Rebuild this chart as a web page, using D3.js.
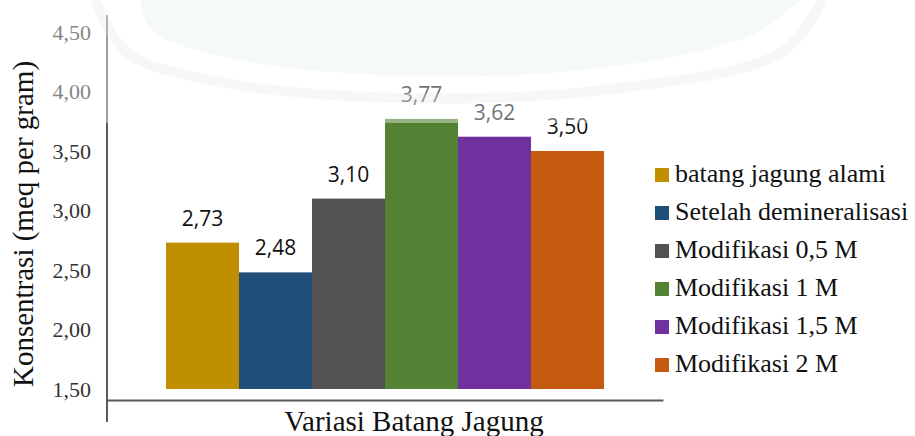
<!DOCTYPE html>
<html>
<head>
<meta charset="utf-8">
<script src="https://cdn.jsdelivr.net/npm/d3@7"></script>
<style>
body { margin: 0; background: #fff; }
.serif { font-family: "Liberation Serif", "Times New Roman", Tinos, "DejaVu Serif", "Noto Serif", serif; }
</style>
</head>
<body>
<div id="chart"></div>
<script>
var categories = ["Variasi Batang Jagung"];
var seriesNames = ["batang jagung alami", "Setelah demineralisasi", "Modifikasi 0,5 M", "Modifikasi 1 M", "Modifikasi 1,5 M", "Modifikasi 2 M"];
var seriesValues = [2.73, 2.48, 3.10, 3.77, 3.62, 3.50];
var seriesColors = ["#bf8f00", "#1f4e79", "#525252", "#548235", "#7030a0", "#c55a11"];
var yTicks = [1.5, 2.0, 2.5, 3.0, 3.5, 4.0, 4.5];
var yTitle = "Konsentrasi (meq per gram)";

var width = 915, height = 436;

var svg = d3.select("#chart").append("svg")
    .attr("width", width)
    .attr("height", height);

var y = d3.scaleLinear().domain([1.5, 4.5]).range([389, 32]);
var x0 = d3.scaleBand().domain(categories).range([107, 663])
    .paddingInner(0).paddingOuter(0.1347);
var x1 = d3.scaleBand().domain(seriesNames).range([0, x0.bandwidth()]);

var comma = function (d) { return d3.format(".2f")(d).replace(".", ","); };

// y axis ticks (no domain line, drawn below)
var yAxis = svg.append("g")
    .attr("transform", "translate(107,0)")
    .call(d3.axisLeft(y).tickValues(yTicks).tickSize(0).tickPadding(16).tickFormat(comma));
yAxis.select(".domain").remove();
yAxis.attr("font-family", null).attr("font-size", null);
yAxis.selectAll("text")
    .attr("class", "serif")
    .style("font-size", "22px")
    .attr("fill", "#333");

// bars
var data = seriesNames.map(function (s, i) {
    return { cat: categories[0], name: s, value: seriesValues[i], color: seriesColors[i] };
});

var group = svg.append("g")
    .attr("transform", "translate(" + x0(categories[0]) + ",0)");

group.selectAll("rect")
    .data(data).enter()
    .append("rect")
    .attr("x", d => x1(d.name))
    .attr("width", x1.bandwidth())
    .attr("y", d => y(d.value))
    .attr("height", d => y(1.5) - y(d.value))
    .attr("fill", d => d.color);

group.selectAll("text")
    .data(data).enter()
    .append("text")
    .attr("x", d => x1(d.name) + x1.bandwidth() / 2)
    .attr("y", d => y(d.value) - 17)
    .attr("text-anchor", "middle")
    .style("font-family", "'Open Sans', sans-serif")
    .style("font-size", "21px")
    .attr("fill", "#111")
    .text(d => comma(d.value));

// x axis line
var xAxis = svg.append("g")
    .attr("transform", "translate(0,400)")
    .call(d3.axisBottom(x0).tickSize(0).tickFormat(""));
xAxis.select(".domain")
    .attr("stroke", "#595959")
    .attr("stroke-width", 2);

// y axis line
svg.append("line")
    .attr("x1", 107).attr("x2", 107)
    .attr("y1", 15).attr("y2", 422)
    .attr("stroke", "#262626")
    .attr("stroke-width", 1.5);

// titles
svg.append("text")
    .attr("class", "serif")
    .attr("x", 414).attr("y", 431)
    .attr("text-anchor", "middle")
    .style("font-size", "29px")
    .attr("fill", "#111")
    .text(categories[0]);

svg.append("text")
    .attr("class", "serif")
    .attr("transform", "translate(33,224) rotate(-90)")
    .attr("text-anchor", "middle")
    .style("font-size", "29px")
    .attr("fill", "#111")
    .text(yTitle);

// legend
var legend = svg.append("g").attr("transform", "translate(655,182)");
var item = legend.selectAll("g")
    .data(data).enter()
    .append("g")
    .attr("transform", (d, i) => "translate(0," + (i * 38) + ")");
item.append("rect")
    .attr("x", 0).attr("y", -14)
    .attr("width", 14).attr("height", 14)
    .attr("fill", d => d.color);
item.append("text")
    .attr("class", "serif")
    .attr("x", 20).attr("y", 0)
    .style("font-size", "26px")
    .attr("fill", "#111")
    .text(d => d.name);

// faded watermark on top part of the page
svg.append("rect")
    .attr("x", 40).attr("y", 0)
    .attr("width", width - 40).attr("height", 123)
    .attr("fill", "#fff")
    .attr("opacity", 0.4);

var wm = d3.line().curve(d3.curveCatmullRom);
svg.append("path")
    .attr("d", wm([[140, 0], [152, 30], [230, 58], [400, 76], [600, 68], [752, 35], [800, 0]]) + "Z")
    .attr("fill", "#e3f1e8")
    .attr("opacity", 0.35);
svg.append("path")
    .attr("d", wm([[96, 0], [126, 52], [210, 80], [400, 98], [620, 88], [782, 52], [822, 0]]))
    .attr("fill", "none")
    .attr("stroke", "#e6e6e6")
    .attr("stroke-width", 10)
    .attr("opacity", 0.3);
</script>
</body>
</html>
